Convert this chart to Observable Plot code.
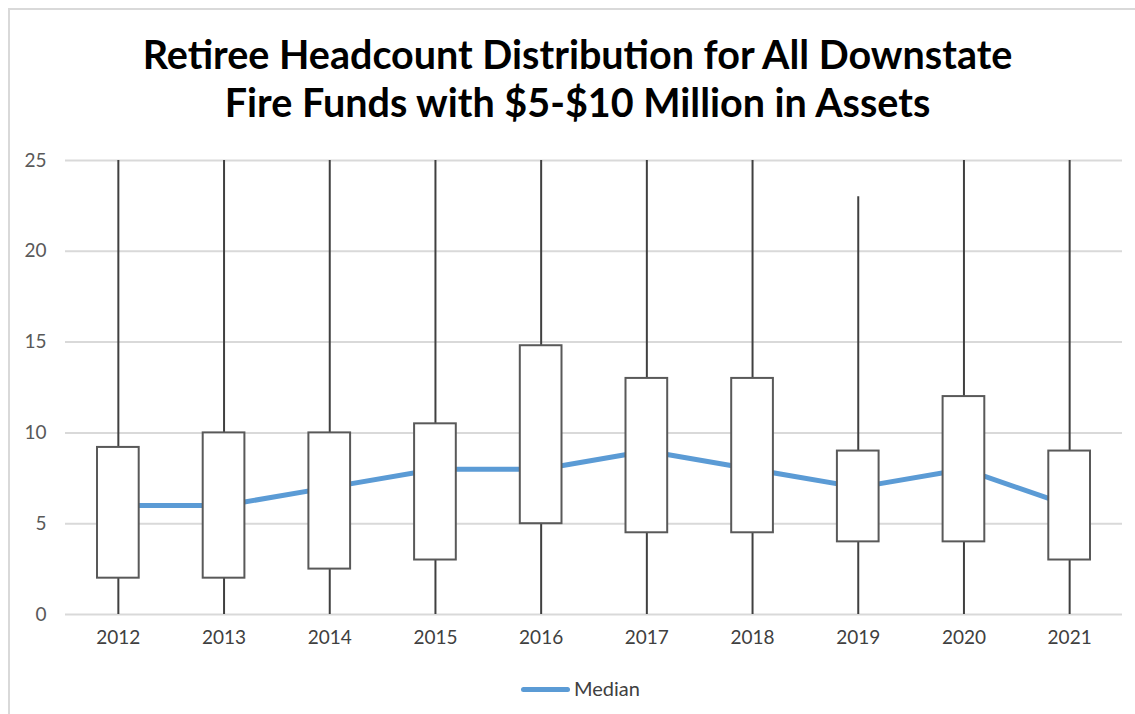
<!DOCTYPE html>
<html>
<head>
<meta charset="utf-8">
<script src="https://cdn.jsdelivr.net/npm/d3@7"></script>
<script src="https://cdn.jsdelivr.net/npm/@observablehq/plot@0.6"></script>
<style>
  html, body { margin: 0; padding: 0; background: #fff; }
  #wrap { position: relative; width: 1135px; height: 714px; overflow: hidden; background: #fff; }
  #frame { position: absolute; left: 8px; top: 8px; width: 1200px; height: 800px;
           border-left: 2px solid #d9d9d9; border-top: 2px solid #d9d9d9; box-sizing: border-box; }
  #title { position: absolute; left: 0; top: 30px; width: 1155px; text-align: center;
           font-family: Lato, "Open Sans", sans-serif; font-weight: bold; font-size: 39.5px;
           line-height: 48px; color: #000; }
  #chart { position: absolute; left: 0; top: 130px; }
  #legend { position: absolute; left: 13px; top: 676px; width: 1135px; text-align: center;
            font-family: Lato, "Open Sans", sans-serif; font-size: 20px; color: #404040; }
  #legend .sw { display: inline-block; width: 49px; height: 5px; border-radius: 3px;
                background: #5B9BD5; vertical-align: middle; margin-right: 4px; position: relative; top: -1px; }
</style>
</head>
<body>
<div id="wrap">
  <div id="frame"></div>
  <div id="title">Retiree Headcount Distribution for All Downstate<br>Fire Funds with $5-$10 Million in Assets</div>
  <div id="chart"></div>
  <div id="legend"><span class="sw"></span>Median</div>
</div>
<script>
const years   = ["2012","2013","2014","2015","2016","2017","2018","2019","2020","2021"];
const minVals = [0, 0, 0, 0, 0, 0, 0, 0, 0, 0];
const q1Vals  = [2, 2, 2.5, 3, 5, 4.5, 4.5, 4, 4, 3];
const medians = [6, 6, 7, 8, 8, 9, 8, 7, 8, 6];
const q3Vals  = [9.2, 10, 10, 10.5, 14.8, 13, 13, 9, 12, 9];
const maxVals = [25, 25, 25, 25, 25, 25, 25, 23, 25, 25]; // tops above 25 are cut at the axis limit
const yTicks  = [0, 5, 10, 15, 20, 25];

const rows = years.map((y, i) => ({
  year: y, min: minVals[i], q1: q1Vals[i], median: medians[i], q3: q3Vals[i], max: maxVals[i]
}));

const font = "Lato, 'Open Sans', sans-serif";

const chart = Plot.plot({
  width: 1135,
  height: 540,
  marginTop: 30,
  marginBottom: 56,
  marginLeft: 65,
  marginRight: 13,
  style: { fontFamily: font, fontSize: "19px", color: "#595959", background: "transparent" },
  x: { type: "band", domain: years, padding: 0, round: false, label: null },
  y: { domain: [0, 25], ticks: yTicks, label: null },
  marks: [
    Plot.gridY(yTicks, { stroke: "#d9d9d9", strokeOpacity: 1, strokeWidth: 2 }),
    Plot.axisY(yTicks, { tickSize: 0, tickPadding: 19, fontSize: 19, fill: "#595959", label: null }),
    Plot.axisX({ tickSize: 0, tickPadding: 16, fontSize: 19, fill: "#404040", label: null }),
    Plot.ruleX(rows, { x: "year", y1: "min", y2: "max", stroke: "#404040", strokeWidth: 2 }),
    Plot.line(rows, { x: "year", y: "median", stroke: "#5B9BD5", strokeWidth: 5, strokeLinejoin: "round" }),
    Plot.barY(rows, { x: "year", y1: "q1", y2: "q3", fill: "#fff", stroke: "#595959", strokeWidth: 2,
                      insetLeft: 32, insetRight: 32 })
  ]
});
document.getElementById("chart").appendChild(chart);
</script>
</body>
</html>
